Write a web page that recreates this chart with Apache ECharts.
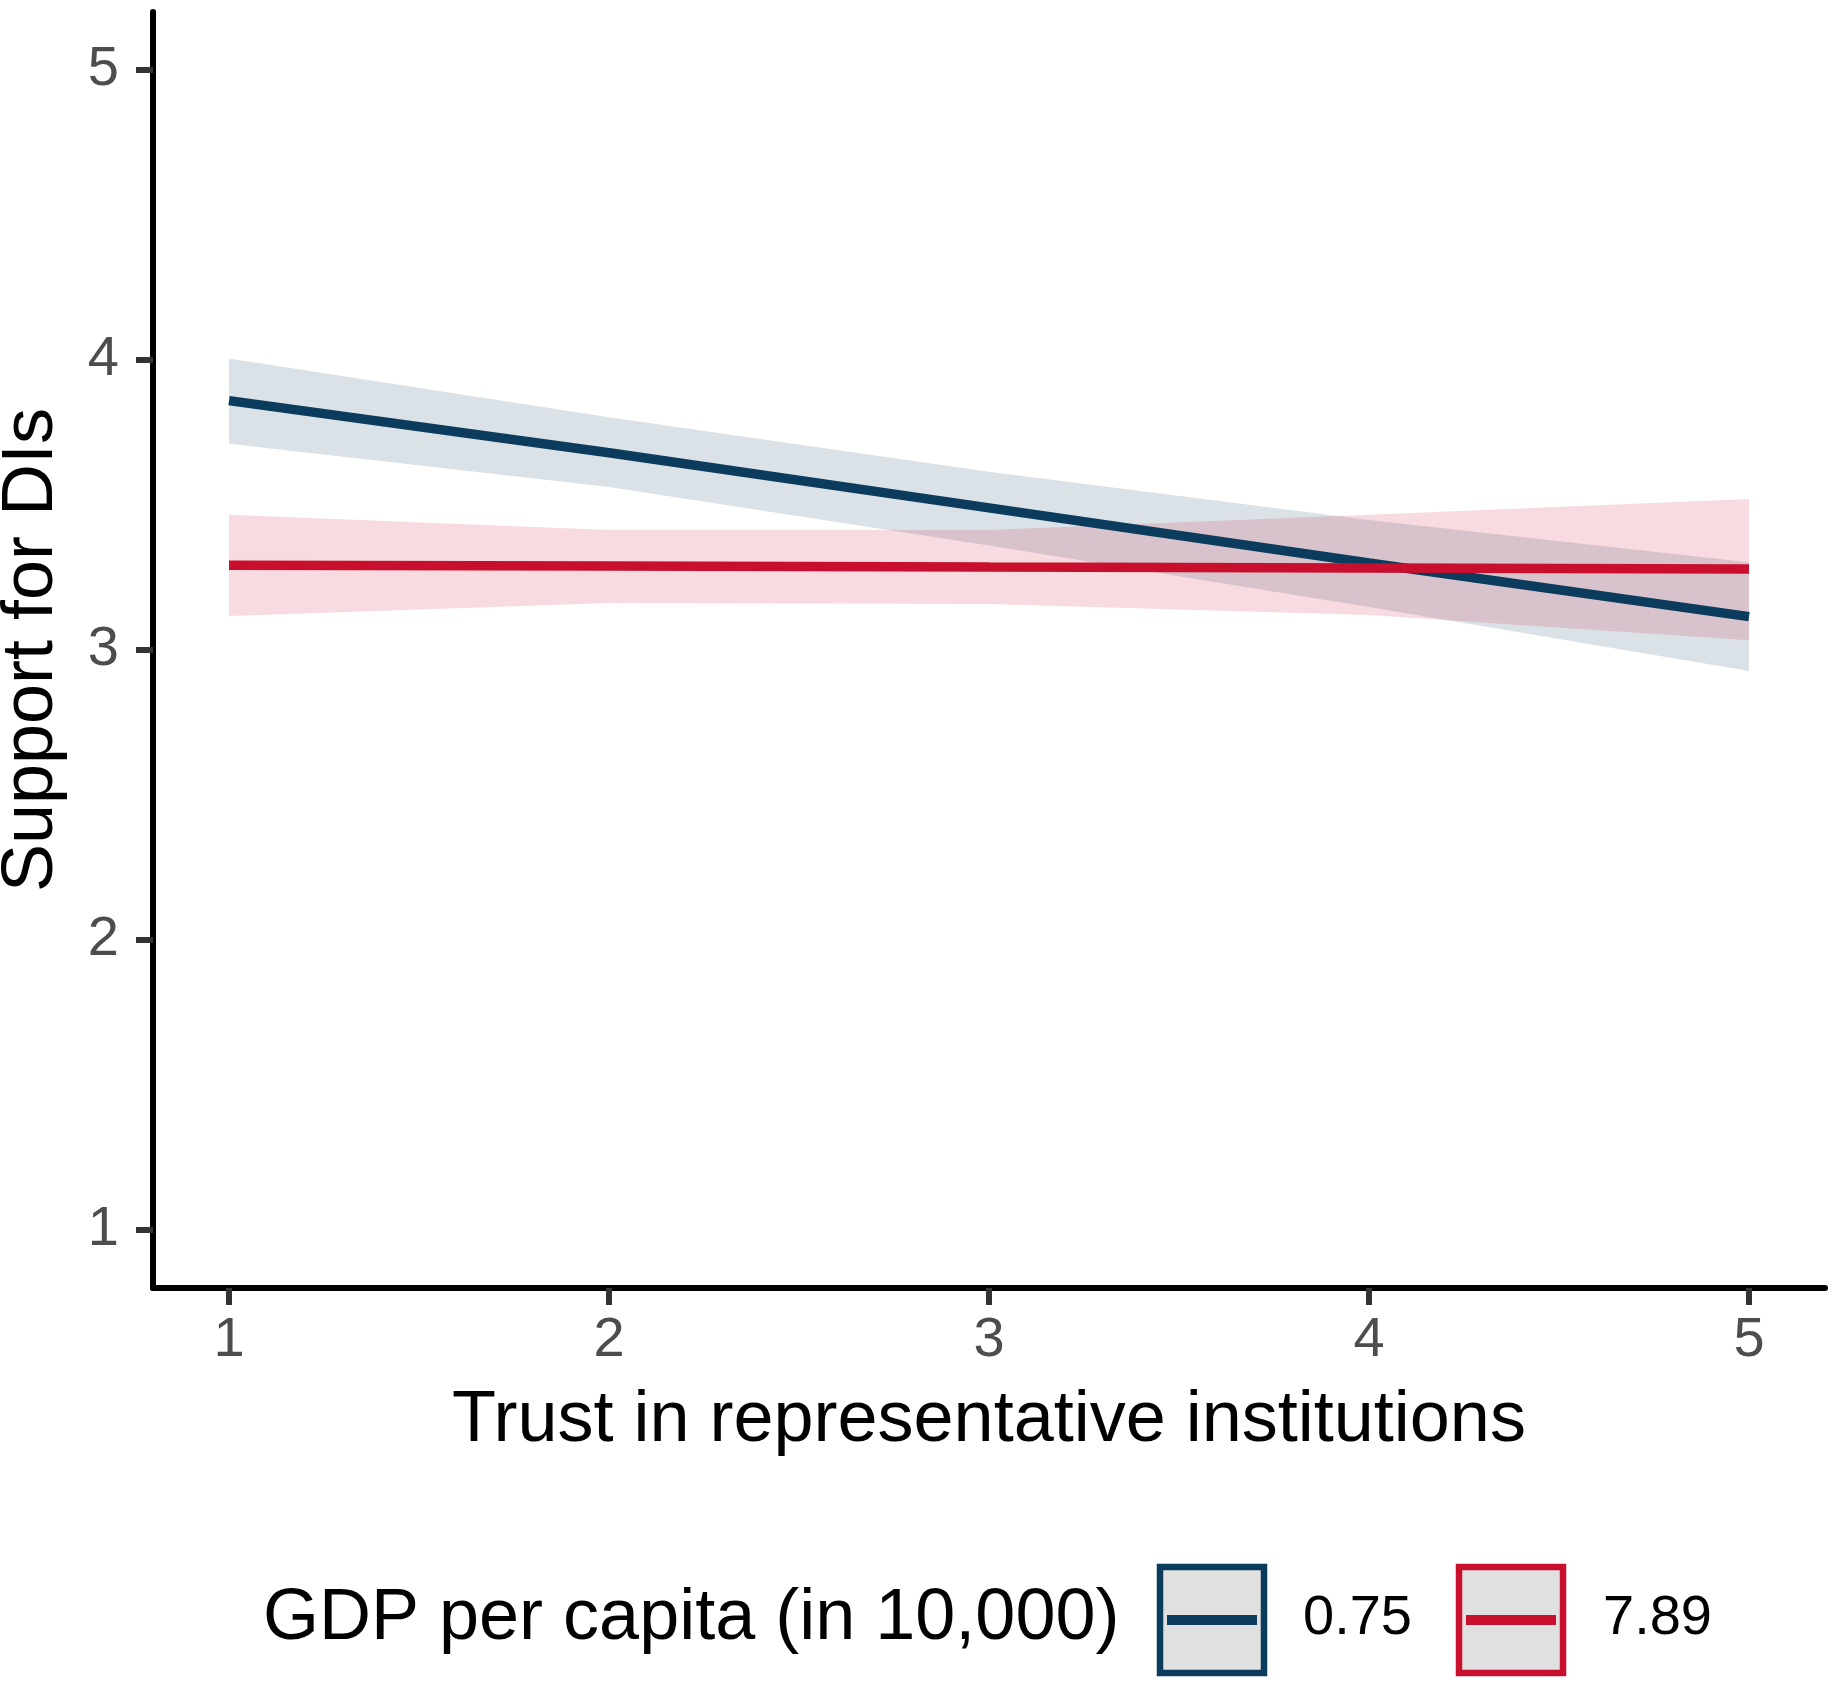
<!DOCTYPE html>
<html>
<head>
<meta charset="utf-8">
<script src="https://cdn.jsdelivr.net/npm/echarts@6/dist/echarts.min.js"></script>
<style>
html,body{margin:0;padding:0;background:#fff;}
#chart{width:1833px;height:1685px;}
</style>
</head>
<body>
<div id="chart"></div>
<script>
// ---- data ----
const trustValues = [1, 2, 3, 4, 5];
const xTickLabels = [1, 2, 3, 4, 5];
const yTickLabels = [1, 2, 3, 4, 5];

const groupNames = ['0.75', '7.89'];
const groupColors = ['#0b3c5d', '#c8102e'];

// GDP per capita = 0.75
const lowGdpFit   = [3.860, 3.680, 3.490, 3.300, 3.115];
const lowGdpLower = [3.711, 3.562, 3.360, 3.148, 2.928];
const lowGdpUpper = [4.005, 3.803, 3.615, 3.448, 3.303];

// GDP per capita = 7.89
const highGdpFit   = [3.292, 3.290, 3.286, 3.283, 3.279];
const highGdpLower = [3.117, 3.162, 3.159, 3.121, 3.034];
const highGdpUpper = [3.466, 3.414, 3.414, 3.466, 3.521];

const xTitle = 'Trust in representative institutions';
const yTitle = 'Support for DIs';
const legendTitle = 'GDP per capita (in 10,000)';

// ---- build options ----
const FONT = 'Liberation Sans, Arial, Helvetica, sans-serif';
function pairs(ys) { return trustValues.map((x, i) => [x, ys[i]]); }
function rgba(hex, a) {
  const n = parseInt(hex.slice(1), 16);
  return 'rgba(' + ((n >> 16) & 255) + ',' + ((n >> 8) & 255) + ',' + (n & 255) + ',' + a + ')';
}

const fits = [lowGdpFit, highGdpFit];
const lowers = [lowGdpLower, highGdpLower];
const uppers = [lowGdpUpper, highGdpUpper];

const series = [];
// ribbons first (polygon through the axis scales)
for (let g = 0; g < 2; g++) {
  const lo = lowers[g], hi = uppers[g];
  series.push({
    type: 'custom', name: 'ribbon-' + g, silent: true, z: 1, clip: true,
    data: [[trustValues[0], lo[0]]],
    renderItem: function (params, api) {
      const pts = [];
      for (let i = 0; i < trustValues.length; i++) pts.push(api.coord([trustValues[i], hi[i]]));
      for (let i = trustValues.length - 1; i >= 0; i--) pts.push(api.coord([trustValues[i], lo[i]]));
      return {
        type: 'polygon',
        shape: { points: pts },
        style: { fill: rgba(groupColors[g], 0.15), stroke: 'none' }
      };
    }
  });
}
// fitted lines
for (let g = 0; g < 2; g++) {
  series.push({
    type: 'line', name: groupNames[g], data: pairs(fits[g]),
    symbol: 'none', silent: true,
    lineStyle: { color: groupColors[g], width: 9.5, cap: 'butt' }, z: 3 + g
  });
}

// legend drawn with graphic elements
const graphics = [{
  type: 'text', left: 263, top: 1583,
  style: { text: legendTitle, font: '72px ' + FONT, fill: '#000' }
}];
const keyLeft = [1160, 1459];
const textLeft = [1303, 1603];
for (let g = 0; g < 2; g++) {
  graphics.push({
    type: 'rect',
    shape: { x: keyLeft[g], y: 1567, width: 104, height: 106 },
    style: { fill: '#e0e0e0', stroke: groupColors[g], lineWidth: 6.5 }
  });
  graphics.push({
    type: 'line',
    shape: { x1: keyLeft[g] + 7, y1: 1620, x2: keyLeft[g] + 97, y2: 1620 },
    style: { stroke: groupColors[g], lineWidth: 10 }
  });
  graphics.push({
    type: 'text', left: textLeft[g], top: 1591,
    style: { text: groupNames[g], font: '56px ' + FONT, fill: '#000' }
  });
}

const option = {
  animation: false,
  backgroundColor: '#ffffff',
  grid: { left: 153, right: 8, top: 12, bottom: 397, outerBoundsMode: 'none', containLabel: false },
  xAxis: {
    type: 'value', min: 0.8, max: 5.2,
    name: xTitle, nameLocation: 'middle', nameGap: 97,
    nameTextStyle: { fontSize: 72, color: '#000', fontFamily: FONT },
    axisLine: { show: true, lineStyle: { color: '#000', width: 6 } },
    axisTick: { show: true, length: 17, lineStyle: { color: '#333', width: 6 }, customValues: xTickLabels },
    axisLabel: { fontSize: 56, color: '#4d4d4d', fontFamily: FONT, margin: 25, customValues: xTickLabels },
    splitLine: { show: false }
  },
  yAxis: {
    type: 'value', min: 0.8, max: 5.2,
    name: yTitle, nameLocation: 'middle', nameGap: 85, nameRotate: 90,
    nameTextStyle: { fontSize: 72, color: '#000', fontFamily: FONT },
    axisLine: { show: true, lineStyle: { color: '#000', width: 6 } },
    axisTick: { show: true, length: 17, lineStyle: { color: '#333', width: 6 }, customValues: yTickLabels },
    axisLabel: { fontSize: 56, color: '#4d4d4d', fontFamily: FONT, margin: 34, customValues: yTickLabels },
    splitLine: { show: false }
  },
  series: series,
  graphic: graphics
};

const chart = echarts.init(document.getElementById('chart'), null, { renderer: 'canvas' });
chart.setOption(option);
</script>
</body>
</html>
